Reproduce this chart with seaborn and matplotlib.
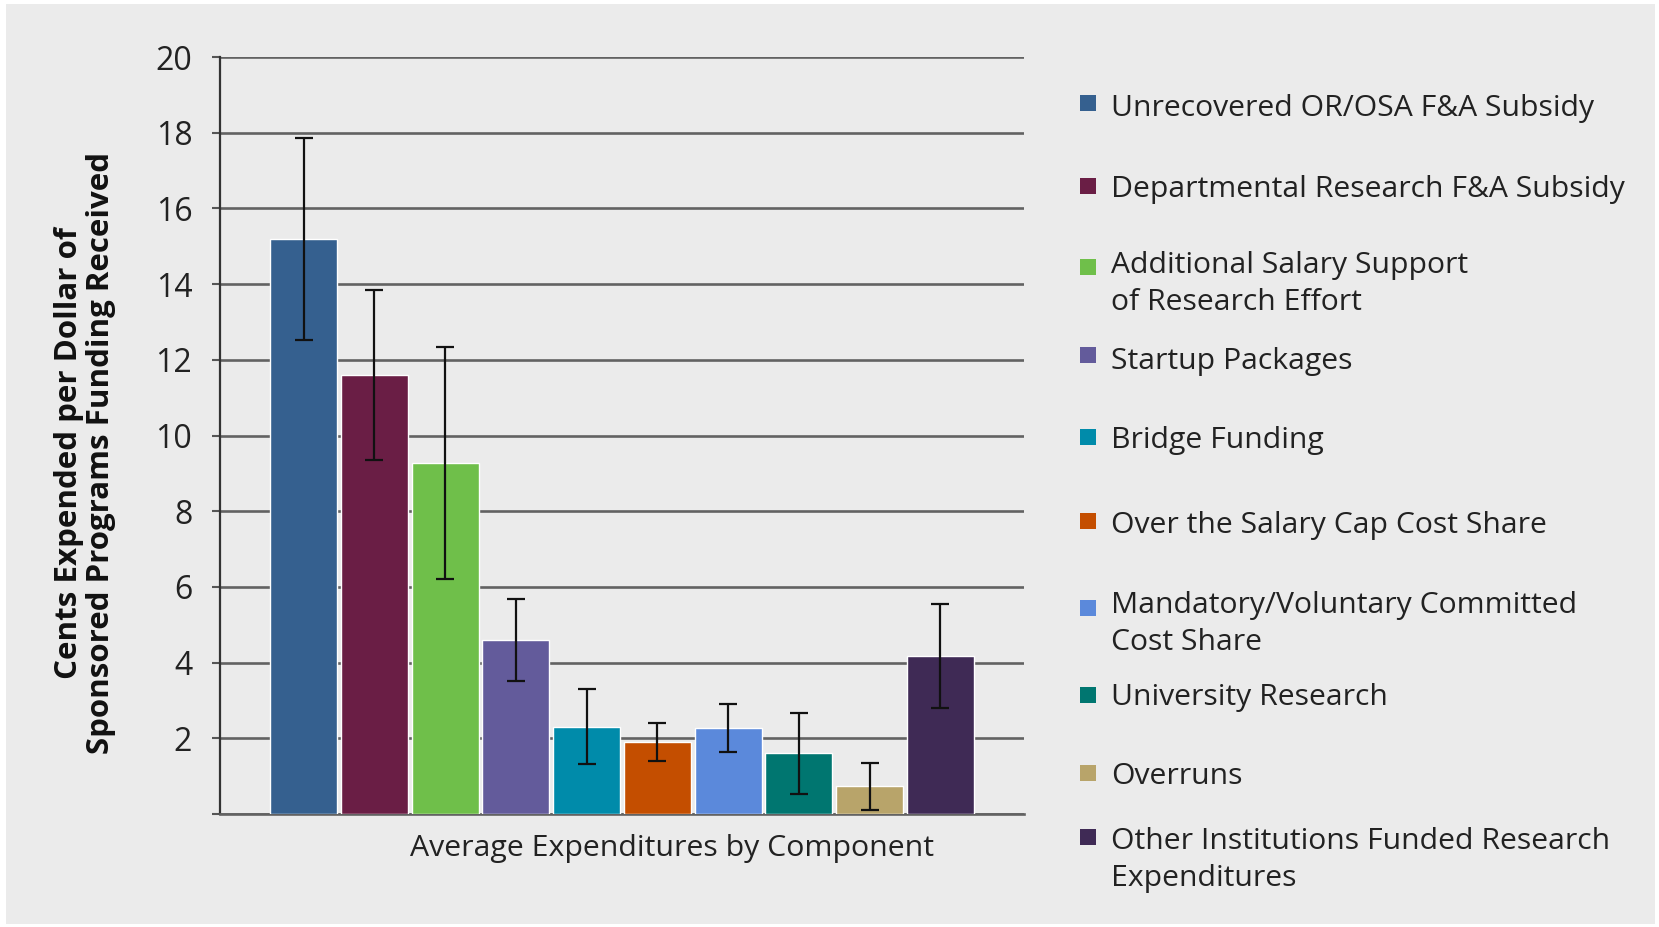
import numpy as np
import pandas as pd
import seaborn as sns
import matplotlib
matplotlib.use('Agg')
import matplotlib.pyplot as plt
from matplotlib.patches import Rectangle

# data
components = [
    'Unrecovered OR/OSA F&A Subsidy',
    'Departmental Research F&A Subsidy',
    'Additional Salary Support\nof Research Effort',
    'Startup Packages',
    'Bridge Funding',
    'Over the Salary Cap Cost Share',
    'Mandatory/Voluntary Committed\nCost Share',
    'University Research',
    'Overruns',
    'Other Institutions Funded Research\nExpenditures',
]
means = [15.2, 11.6, 9.27, 4.6, 2.3, 1.9, 2.27, 1.6, 0.73, 4.18]
errors = [2.67, 2.25, 3.07, 1.08, 0.99, 0.5, 0.64, 1.06, 0.63, 1.38]
colors = ['#35608F', '#6A1E45', '#6FBF4A', '#635B9B', '#008BAA',
          '#C44E00', '#5B89DB', '#007670', '#B8A46A', '#3F2A55']
group = 'Average Expenditures by Component'
yticks = list(range(0, 21, 2))

df = pd.DataFrame({'group': group, 'component': components, 'value': means})

W, H = 1659, 927
BG = '#EBEBEB'

sns.set_theme(style='white')
plt.rcParams['font.family'] = ['Open Sans', 'DejaVu Sans']

fig = plt.figure(figsize=(W / 100, H / 100), dpi=100, facecolor='white')
fig.patches.append(Rectangle((6 / W, 3 / H), 1 - 10 / W, 1 - 7 / H,
                             transform=fig.transFigure, facecolor=BG,
                             edgecolor='none', zorder=-10))
ax = fig.add_axes([220 / W, 1 - 814 / H, 804 / W, 757 / H])
ax.set_facecolor(BG)

sns.barplot(data=df, x='group', y='value', hue='component',
            palette=colors, hue_order=components, width=0.88, gap=0.05,
            saturation=1, errorbar=None, legend=False, ax=ax, zorder=3)

# error bars at bar centres
centres = [p.get_x() + p.get_width() / 2 for p in ax.patches[:len(means)]]
ax.errorbar(centres, means, yerr=errors, fmt='none', ecolor='#111111',
            elinewidth=1.6, capsize=6.5, capthick=1.6, zorder=4)

ax.set_ylim(0, 20)
ax.set_xlim(-0.5, 0.5)
ax.set_yticks(yticks)
ax.set_yticklabels(['' if t == 0 else str(t) for t in yticks],
                   fontsize=23, color='#222222')
ax.yaxis.grid(True, color='#626262', linewidth=1.9, zorder=0)
ax.set_axisbelow(True)
ax.tick_params(axis='y', length=6, width=1.5, color='#555555', pad=14, left=True)
ax.set_xticks([])
ax.set_ylabel('')
ax.set_xlabel(group, fontsize=21.8, color='#222222')
ax.xaxis.set_label_coords((672 - 220) / 804, -0.046)
ax.xaxis.label.set_va('center')

for s in ['top', 'right']:
    ax.spines[s].set_visible(False)
ax.spines['left'].set_color('#333333')
ax.spines['left'].set_linewidth(1.6)
ax.spines['bottom'].set_color('#626262')
ax.spines['bottom'].set_linewidth(1.9)

fig.text(85 / W, 1 - 453 / H,
         'Cents Expended per Dollar of\nSponsored Programs Funding Received',
         rotation=90, ha='center', va='center', fontsize=22.5,
         fontweight='bold', color='#111111', linespacing=1.12)

# legend, laid out like the original (first-line centres in pixels)
line_y = [105, 186, 262, 358, 437, 522, 602, 694, 773, 838]
box_y = [103, 186, 267, 355, 437, 521, 608, 695, 773, 837]
for lab, c, ly, by in zip(components, colors, line_y, box_y):
    fig.patches.append(Rectangle((1080 / W, 1 - (by + 8) / H), 16 / W, 16 / H,
                                 transform=fig.transFigure, facecolor=c,
                                 edgecolor='none'))
    for i, part in enumerate(lab.split('\n')):
        fig.text(1111 / W, 1 - (ly + i * 37) / H, part, fontsize=21.7,
                 ha='left', va='center_baseline', color='#222222')

fig.savefig('out.png', dpi=100, facecolor='white')
